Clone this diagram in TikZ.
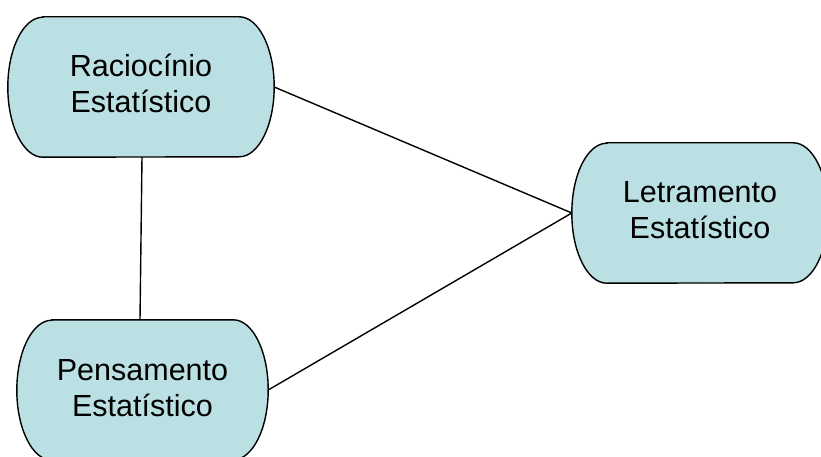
\documentclass[tikz,border=0pt]{standalone}
\usepackage{fontspec}
\setmainfont{Liberation Sans}
\definecolor{boxfill}{HTML}{BAE0E3}
% outline with flat top/bottom and half-elliptic sides around a node
\newcommand\termoutline[2]{%
  \filldraw[boxline] ($(#1.north west)+(#2,0)$) -- ($(#1.north east)+(-#2,0)$)
    arc[start angle=90, end angle=-90, x radius=#2pt, y radius=70pt]
    -- ($(#1.south west)+(#2,0)$)
    arc[start angle=270, end angle=90, x radius=#2pt, y radius=70pt] -- cycle;}
\usetikzlibrary{calc}
\begin{document}
\begin{tikzpicture}[x=1pt,y=-1pt,
  boxline/.style={fill=boxfill, draw=black, line width=1.4pt},
  concept/.style={shape=rectangle, minimum height=140pt, inner sep=0pt,
    align=center, font=\fontsize{30.5}{36}\selectfont},
  link/.style={draw=black, line width=1.4pt}]
\useasboundingbox (0,0) rectangle (821,457);
\node[concept, minimum width=266pt] (rac) at (141,87) {};
\node[concept, minimum width=256pt] (let) at (700,213) {};
\node[concept, minimum width=251pt] (pen) at (142.5,390) {};
% connectors
\draw[link] (rac.east) -- (let.west);
\draw[link] (pen.east) -- (let.west);
\draw[link] ([xshift=1pt]rac.south) -- ([xshift=-2.5pt]pen.north);
% shapes
\termoutline{rac}{35}
\termoutline{let}{35}
\termoutline{pen}{35}
% labels
\node[concept] at ([yshift=4pt]rac.center) {Raciocínio\\Estatístico};
\node[concept] at ([yshift=3pt]let.center) {Letramento\\Estatístico};
\node[concept] at ([yshift=2pt]pen.center) {Pensamento\\Estatístico};
\end{tikzpicture}
\end{document}
